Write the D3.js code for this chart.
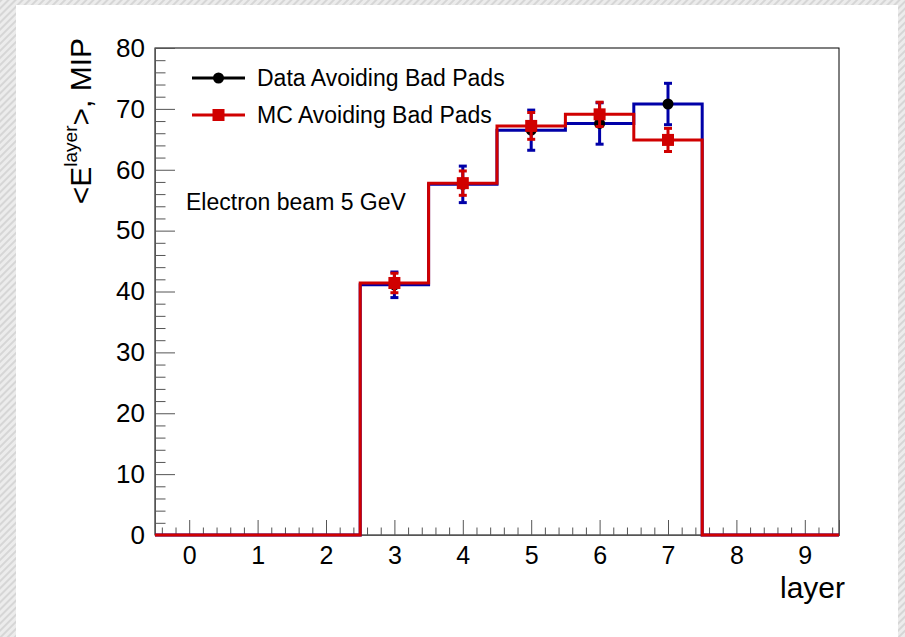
<!DOCTYPE html>
<html>
<head>
<meta charset="UTF-8">
<title>Energy per layer</title>
<style>
  body { margin: 0; background: #fff; }
  svg { display: block; font-family: "Liberation Sans", Arial, sans-serif; }
</style>
</head>
<body>
<svg></svg>
<script src="https://d3js.org/d3.v7.min.js"></script>
<script>
// values
var layers = [0, 1, 2, 3, 4, 5, 6, 7, 8, 9];
var dataMean = [0, 0, 0, 41.1, 57.6, 66.5, 67.6, 70.8, 0, 0];
var dataErr  = [0, 0, 0, 2.1, 3.0, 3.3, 3.4, 3.4, 0, 0];
var mcMean   = [0, 0, 0, 41.4, 57.8, 67.2, 69.1, 64.9, 0, 0];
var mcErr    = [0, 0, 0, 1.6, 2.0, 2.2, 2.0, 1.9, 0, 0];
var yTicks = [0, 10, 20, 30, 40, 50, 60, 70, 80];
var legendLabels = ["Data Avoiding Bad Pads", "MC Avoiding Bad Pads"];

var width = 905, height = 637;
var svg = d3.select("svg").attr("width", width).attr("height", height);

// hatched canvas border
var defs = svg.append("defs");
var pat = defs.append("pattern")
  .attr("id", "hatch")
  .attr("patternUnits", "userSpaceOnUse")
  .attr("width", 5).attr("height", 5)
  .attr("patternTransform", "rotate(45)");
pat.append("rect").attr("width", 5).attr("height", 5).attr("fill", "#ececec");
pat.append("rect").attr("width", 2).attr("height", 5).attr("fill", "#d6d6d6");

svg.append("rect").attr("width", width).attr("height", height).attr("fill", "url(#hatch)");
svg.append("rect").attr("x", 16).attr("y", 5).attr("width", 882).attr("height", height - 5).attr("fill", "#fff");

var fLeft = 155, fRight = 839, fTop = 48, fBottom = 535;

var x = d3.scaleLinear().domain([-0.5, 9.5]).range([fLeft, fRight]);
var y = d3.scaleLinear().domain([0, 80]).range([fBottom, fTop]);

// frame
svg.append("rect")
  .attr("x", fLeft).attr("y", fTop)
  .attr("width", fRight - fLeft).attr("height", fBottom - fTop)
  .attr("fill", "none").attr("stroke", "#000").attr("stroke-width", 1);

function styleAxis(g, size) {
  g.selectAll("line").attr("stroke", "#555");
  g.select(".domain").attr("stroke", "#555");
  g.selectAll("text").attr("font-size", size).attr("fill", "#000")
    .attr("font-family", "Liberation Sans, Arial, sans-serif");
}

// y axis, major and minor ticks inside the frame
var minorY = d3.range(0, 81, 2).filter(d => d % 10 != 0);
var gyMinor = svg.append("g").attr("transform", "translate(" + fLeft + ",0)")
  .call(d3.axisLeft(y).tickValues(minorY).tickSize(-10.5).tickFormat(""));
styleAxis(gyMinor, 26);
var gy = svg.append("g").attr("transform", "translate(" + fLeft + ",0)")
  .call(d3.axisLeft(y).tickValues(yTicks).tickSize(-20).tickPadding(10).tickFormat(d3.format("d")));
styleAxis(gy, 26);

// x axis
var minorX = d3.range(-0.4, 9.5, 0.2).filter(d => Math.abs(d - Math.round(d)) > 0.01);
var gxMinor = svg.append("g").attr("transform", "translate(0," + fBottom + ")")
  .call(d3.axisBottom(x).tickValues(minorX).tickSize(-7.5).tickFormat(""));
styleAxis(gxMinor, 25);
var gx = svg.append("g").attr("transform", "translate(0," + fBottom + ")")
  .call(d3.axisBottom(x).tickValues(layers).tickSize(-15).tickPadding(11).tickFormat(d3.format("d")));
styleAxis(gx, 25);

// axis titles
svg.append("text")
  .attr("x", 845).attr("y", 598)
  .attr("text-anchor", "end")
  .attr("font-size", 30)
  .text("layer");

var yt = svg.append("text")
  .attr("transform", "translate(91,38) rotate(-90)")
  .attr("text-anchor", "end")
  .attr("font-size", 30);
yt.append("tspan").text("<E");
yt.append("tspan").attr("font-size", 19).attr("dy", -14).text("layer");
yt.append("tspan").attr("dy", 14).text(">, MIP");

// histograms
function stepPoints(vals) {
  var pts = [];
  vals.forEach(function(v, i) {
    pts.push([layers[i] - 0.5, v]);
    pts.push([layers[i] + 0.5, v]);
  });
  return pts;
}
var line = d3.line().x(d => x(d[0])).y(d => y(d[1]));

function drawSeries(vals, errs, color, marker) {
  var g = svg.append("g");
  g.append("path")
    .attr("d", line(stepPoints(vals)))
    .attr("fill", "none")
    .attr("stroke", color)
    .attr("stroke-width", 3);

  var idx = layers.filter(i => vals[i] > 0);
  g.selectAll(null).data(idx).enter().append("line")
    .attr("x1", i => x(layers[i])).attr("x2", i => x(layers[i]))
    .attr("y1", i => y(vals[i] - errs[i])).attr("y2", i => y(vals[i] + errs[i]))
    .attr("stroke", color).attr("stroke-width", 3);
  [-1, 1].forEach(function(s) {
    g.selectAll(null).data(idx).enter().append("line")
      .attr("x1", i => x(layers[i]) - 4).attr("x2", i => x(layers[i]) + 4)
      .attr("y1", i => y(vals[i] + s * errs[i])).attr("y2", i => y(vals[i] + s * errs[i]))
      .attr("stroke", color).attr("stroke-width", 3);
  });

  if (marker == "circle") {
    g.selectAll(null).data(idx).enter().append("circle")
      .attr("cx", i => x(layers[i])).attr("cy", i => y(vals[i]))
      .attr("r", 5.5).attr("fill", "#000");
  } else {
    g.selectAll(null).data(idx).enter().append("rect")
      .attr("x", i => x(layers[i]) - 6).attr("y", i => y(vals[i]) - 6)
      .attr("width", 12).attr("height", 12).attr("fill", color);
  }
}

drawSeries(dataMean, dataErr, "#0000a8", "circle");
drawSeries(mcMean, mcErr, "#d00000", "square");

// legend
var legY = [78, 115];
var legColor = ["#000", "#d00000"];
legendLabels.forEach(function(lab, k) {
  var g = svg.append("g");
  g.append("line").attr("x1", 192).attr("x2", 245).attr("y1", legY[k]).attr("y2", legY[k])
    .attr("stroke", legColor[k]).attr("stroke-width", 3);
  if (k == 0) {
    g.append("circle").attr("cx", 218.5).attr("cy", legY[k]).attr("r", 5.5).attr("fill", "#000");
  } else {
    g.append("rect").attr("x", 212.5).attr("y", legY[k] - 6).attr("width", 12).attr("height", 12).attr("fill", legColor[k]);
  }
  g.append("text").attr("x", 257).attr("y", legY[k] + 8)
    .attr("font-size", 23).text(lab);
});

svg.append("text")
  .attr("x", 186).attr("y", 210)
  .attr("font-size", 23)
  .text("Electron beam 5 GeV");
</script>
</body>
</html>
